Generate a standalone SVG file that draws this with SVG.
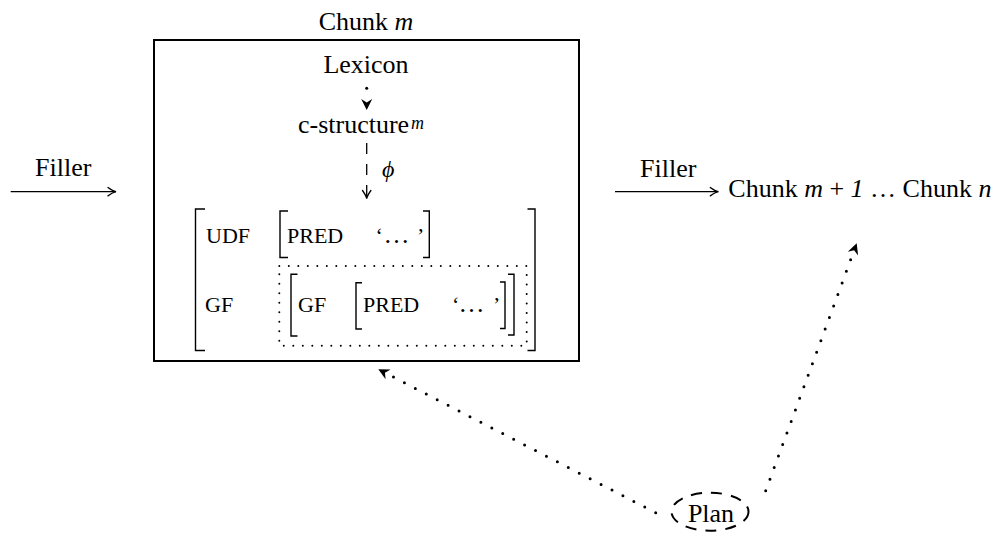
<svg xmlns="http://www.w3.org/2000/svg" width="992" height="533" viewBox="0 0 992 533">
<style>
text{font-family:"Liberation Serif","Times New Roman",serif;fill:#000}
.t26{font-size:26px}
.t22{font-size:22px}
.it{font-style:italic}
.br{fill:none;stroke:#000;stroke-width:1.4}
.thin{fill:none;stroke:#000;stroke-width:1.3}
.dots{fill:none;stroke:#000;stroke-width:3;stroke-linecap:round;stroke-dasharray:0 12.3}
</style>
<defs>
<marker id="to" markerUnits="userSpaceOnUse" markerWidth="14" markerHeight="14" viewBox="-12 -7 14 14" refX="0" refY="0" orient="auto" overflow="visible">
<path d="M-8,-4.2 Q-3,-0.6 0,0 Q-3,0.6 -8,4.2" fill="none" stroke="#000" stroke-width="1.3" stroke-linecap="round"/>
</marker>
<marker id="stealth" markerUnits="userSpaceOnUse" markerWidth="16" markerHeight="16" viewBox="-14 -8 16 16" refX="0" refY="0" orient="auto" overflow="visible">
<path d="M0,0 L-11,-5.5 L-7.5,0 L-11,5.5 Z" fill="#000"/>
</marker>
</defs>

<g id="chunk-m">
<rect x="154" y="40" width="425" height="321" fill="none" stroke="#000" stroke-width="2"/>
<text class="t26" x="366" y="30" text-anchor="middle">Chunk <tspan class="it">m</tspan></text>
</g>

<g id="lexicon">
<text class="t26" x="366" y="72.7" text-anchor="middle">Lexicon</text>
</g>

<g id="c-structure">
<text class="t26" x="298" y="133.3">c-structure</text>
<text x="411" y="128.5" class="it" style="font-size:18px">m</text>
</g>

<g id="f-structure">
<path class="br" d="M205,209 H195.5 V350.5 H205"/>
<path class="br" d="M527.5,209 H535 V350.5 H527.5"/>
<text class="t22" x="206" y="242.7">UDF</text>
<path class="br" d="M288,211 H280 V257.5 H288"/>
<text class="t22" x="287" y="242.7">PRED</text>
<text class="t22" x="375.5" y="242.7">‘</text>
<text x="383.5" y="242.7" style="font-size:26px">…</text>
<text class="t22" x="417" y="242.7">’</text>
<path class="br" d="M423,211 H429.3 V257.5 H423"/>
<text class="t22" x="205" y="312.3">GF</text>
<rect x="279.3" y="266" width="247.4" height="79.7" fill="none" stroke="#000" stroke-width="2" stroke-linecap="round" stroke-dasharray="0 9.5"/>
<path class="br" d="M297.5,274.3 H291 V336 H297.5"/>
<text class="t22" x="298" y="312.3">GF</text>
<path class="br" d="M362,282.7 H356 V329 H362"/>
<text class="t22" x="363" y="312.3">PRED</text>
<text class="t22" x="452" y="312.3">‘</text>
<text x="458.5" y="312.3" style="font-size:26px">…</text>
<text class="t22" x="493" y="312.3">’</text>
<path class="br" d="M500,282 H505 V328.5 H500"/>
<path class="br" d="M508,274.3 H514 V335 H508"/>
</g>

<g id="next-chunks">
<text class="t26" x="728.3" y="196.7" xml:space="preserve">Chunk <tspan class="it">m</tspan> + <tspan class="it">1</tspan> … Chunk <tspan class="it">n</tspan></text>
</g>

<g id="plan">
<ellipse cx="710" cy="511.7" rx="38.5" ry="19" fill="none" stroke="#000" stroke-width="2" stroke-dasharray="11 9"/>
<text class="t26" x="711" y="521.7" text-anchor="middle">Plan</text>
</g>

<g id="connectors">
<path class="dots" d="M366.7,88.3 V100"/>
<path d="M366.7,99 V110" fill="none" stroke="none" marker-end="url(#stealth)"/>
<path class="thin" d="M366.7,143 V198.5" stroke-dasharray="11 10" marker-end="url(#to)"/>
<text x="382" y="177" class="it" style="font-size:24px">ϕ</text>
<path class="thin" d="M10.7,191.7 H116" marker-end="url(#to)"/>
<text class="t26" x="35" y="175.7">Filler</text>
<path class="thin" d="M615,191.7 H718.3" marker-end="url(#to)"/>
<text class="t26" x="640" y="176.7">Filler</text>
<path class="dots" d="M655.7,512.7 L384,372.2"/>
<path d="M390,375.3 L378.3,369.3" fill="none" stroke="none" marker-end="url(#stealth)"/>
<path class="dots" d="M765.7,490.7 L854.6,249"/>
<path d="M854.5,249.3 L856.7,243.3" fill="none" stroke="none" marker-end="url(#stealth)"/>
</g>
</svg>
